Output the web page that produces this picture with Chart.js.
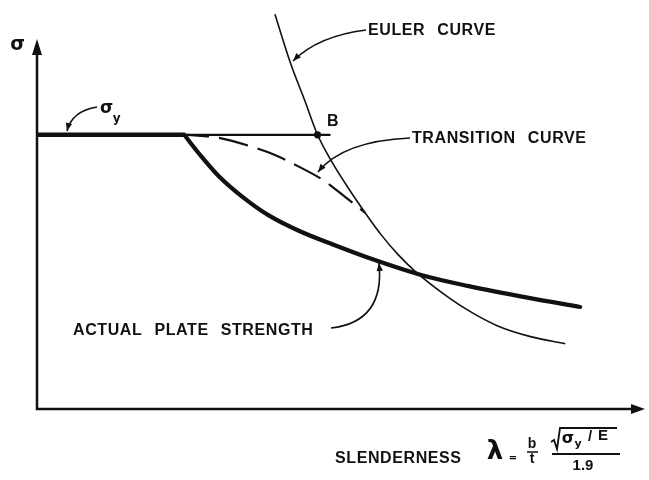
<!DOCTYPE html>
<html>
<head>
<meta charset="utf-8">
<script src="https://cdn.jsdelivr.net/npm/chart.js@4"></script>
<style>
html,body{margin:0;padding:0;background:#fff;}
canvas{display:block;}
</style>
</head>
<body>
<canvas id="c" width="649" height="480"></canvas>
<script>
// x = slenderness λ (B, where the Euler curve meets σy, sits at λ = 1)
// y = σ/σy (the yield plateau is 1.0)
const yieldX  = [0, 1.046];
const yieldY  = [1.0, 1.0];
const pointBX = [1.0];
const pointBY = [1.0];

const eulerX = [0.848, 0.904, 0.954, 1.0, 1.050, 1.110, 1.170, 1.227, 1.287, 1.348, 1.465, 1.546, 1.642, 1.759, 1.883];
const eulerY = [1.440, 1.260, 1.126, 1.0, 0.903, 0.805, 0.715, 0.635, 0.563, 0.502, 0.408, 0.354, 0.303, 0.264, 0.238];

// actual plate strength: plateau (first two points) then the curve from the kink
const actualX = [0, 0.525, 0.578, 0.649, 0.738, 0.826, 0.933, 1.057, 1.199, 1.369, 1.535, 1.748, 1.936];
const actualY = [1.0, 1.0, 0.931, 0.848, 0.769, 0.706, 0.650, 0.599, 0.545, 0.489, 0.449, 0.406, 0.372];

const transX = [0.535, 0.649, 0.755, 0.844, 0.933, 1.021, 1.099, 1.170];
const transY = [1.0, 0.989, 0.960, 0.928, 0.884, 0.834, 0.773, 0.715];

const pts = (xs, ys) => xs.map((x, i) => ({x, y: ys[i]}));

const INK = '#111';

function arrowHead(ctx, tx, ty, fx, fy, len, half){
  const a = Math.atan2(ty - fy, tx - fx);
  ctx.beginPath();
  ctx.moveTo(tx, ty);
  ctx.lineTo(tx - len*Math.cos(a) + half*Math.sin(a), ty - len*Math.sin(a) - half*Math.cos(a));
  ctx.lineTo(tx - len*Math.cos(a) - half*Math.sin(a), ty - len*Math.sin(a) + half*Math.cos(a));
  ctx.closePath();
  ctx.fill();
}

// curved leader from a label to a curve, arrow at the curve end
function leader(ctx, x0, y0, cx, cy, x1, y1){
  ctx.beginPath();
  ctx.moveTo(x0, y0);
  ctx.quadraticCurveTo(cx, cy, x1, y1);
  ctx.stroke();
  arrowHead(ctx, x1, y1, cx, cy, 8, 3.2);
}

function txt(ctx, s, x, y, font, align){
  ctx.font = font;
  ctx.textAlign = align || 'left';
  ctx.fillText(s, x, y);
}

const LABEL_FONT = 'bold 16px "Liberation Sans", Arial, sans-serif';

const sketch = {
  id: 'sketch',
  beforeDatasetsDraw(chart){
    const {ctx, chartArea: a} = chart;
    ctx.save();
    ctx.strokeStyle = INK; ctx.fillStyle = INK; ctx.lineWidth = 2.5;
    // y axis + arrow
    ctx.beginPath(); ctx.moveTo(a.left, a.bottom + 1); ctx.lineTo(a.left, 52); ctx.stroke();
    arrowHead(ctx, a.left, 39, a.left, 60, 16, 5);
    // x axis + arrow
    ctx.beginPath(); ctx.moveTo(a.left - 1, a.bottom); ctx.lineTo(a.right - 10, a.bottom); ctx.stroke();
    arrowHead(ctx, a.right, a.bottom, a.left, a.bottom, 14, 5);
    ctx.restore();
  },
  afterDatasetsDraw(chart){
    const {ctx} = chart;
    ctx.save();
    ctx.fillStyle = INK; ctx.strokeStyle = INK;
    ctx.textBaseline = 'middle';
    try { ctx.wordSpacing = '7px'; ctx.letterSpacing = '0.6px'; } catch(e) {}

    // axis symbol and σy
    txt(ctx, 'σ', 18, 45, 'bold 19px "DejaVu Sans", sans-serif', 'center');
    txt(ctx, 'σ', 107, 109, 'bold 17px "DejaVu Sans", sans-serif', 'center');
    txt(ctx, 'y', 117, 119, 'bold 12px "DejaVu Sans", sans-serif', 'center');
    txt(ctx, 'B', 333, 122, LABEL_FONT, 'center');

    txt(ctx, 'EULER CURVE', 368, 31, LABEL_FONT);
    txt(ctx, 'TRANSITION CURVE', 412, 139, LABEL_FONT);
    txt(ctx, 'ACTUAL PLATE STRENGTH', 73, 331, LABEL_FONT);

    ctx.lineWidth = 1.6;
    leader(ctx, 97, 107, 72, 111, 67, 131);
    leader(ctx, 366, 30, 318, 36, 293, 61);
    leader(ctx, 410, 138, 343, 141, 318, 172);
    leader(ctx, 331, 328, 385, 322, 379, 263);

    // x-axis title: SLENDERNESS λ = (b/t) √(σy/E) / 1.9
    txt(ctx, 'SLENDERNESS', 335, 459, LABEL_FONT);
    ctx.letterSpacing = '0px';
    txt(ctx, 'λ', 495, 452, 'bold 26px "DejaVu Sans", sans-serif', 'center');
    txt(ctx, '=', 513, 458, 'bold 10px "DejaVu Sans", sans-serif', 'center');
    txt(ctx, 'b', 532, 444, 'bold 14px "Liberation Sans", sans-serif', 'center');
    txt(ctx, 't', 532, 459, 'bold 14px "Liberation Sans", sans-serif', 'center');
    ctx.lineWidth = 1.5;
    ctx.beginPath(); ctx.moveTo(527, 452); ctx.lineTo(538, 452); ctx.stroke();

    // radical
    ctx.lineWidth = 1.8;
    ctx.beginPath();
    ctx.moveTo(551, 442); ctx.lineTo(554, 440); ctx.lineTo(557, 449); ctx.lineTo(560, 428); ctx.lineTo(617, 428);
    ctx.stroke();
    txt(ctx, 'σ', 568, 439, 'bold 16px "DejaVu Sans", sans-serif', 'center');
    txt(ctx, 'y', 578, 444, 'bold 11px "DejaVu Sans", sans-serif', 'center');
    txt(ctx, '/', 590, 437, 'bold 15px "Liberation Sans", sans-serif', 'center');
    txt(ctx, 'E', 603, 436, 'bold 15px "Liberation Sans", sans-serif', 'center');
    ctx.lineWidth = 2;
    ctx.beginPath(); ctx.moveTo(552, 454); ctx.lineTo(620, 454); ctx.stroke();
    txt(ctx, '1.9', 583, 466, 'bold 15px "Liberation Sans", sans-serif', 'center');
    ctx.restore();
  }
};

new Chart(document.getElementById('c'), {
  type: 'scatter',
  data: {
    datasets: [
      {data: pts(yieldX, yieldY), showLine: true, borderColor: INK, borderWidth: 2.2, pointRadius: 0},
      {data: pts(actualX.slice(0, 2), actualY.slice(0, 2)), showLine: true, borderColor: INK, borderWidth: 4.5, pointRadius: 0},
      {data: pts(actualX.slice(1), actualY.slice(1)), showLine: true, borderColor: INK, borderWidth: 4.2,
       borderCapStyle: 'round', cubicInterpolationMode: 'monotone', pointRadius: 0},
      {data: pts(transX, transY), showLine: true, borderColor: INK, borderWidth: 2.2,
       borderDash: [30, 10], borderDashOffset: 8, cubicInterpolationMode: 'monotone', pointRadius: 0},
      {data: pts(eulerX, eulerY), showLine: true, borderColor: INK, borderWidth: 1.6,
       cubicInterpolationMode: 'monotone', pointRadius: 0},
      {data: pts(pointBX, pointBY), showLine: false, pointRadius: 3.6, pointBackgroundColor: INK, pointBorderWidth: 0}
    ]
  },
  options: {
    responsive: false,
    animation: false,
    devicePixelRatio: 1,
    events: [],
    layout: {padding: {left: 37, right: 1, top: 0, bottom: 71}},
    plugins: {legend: {display: false}, tooltip: {enabled: false}},
    scales: {
      x: {type: 'linear', min: 0, max: 2.167, display: false},
      y: {type: 'linear', min: 0, max: 1.477, display: false}
    }
  },
  plugins: [sketch]
});
</script>
</body>
</html>
